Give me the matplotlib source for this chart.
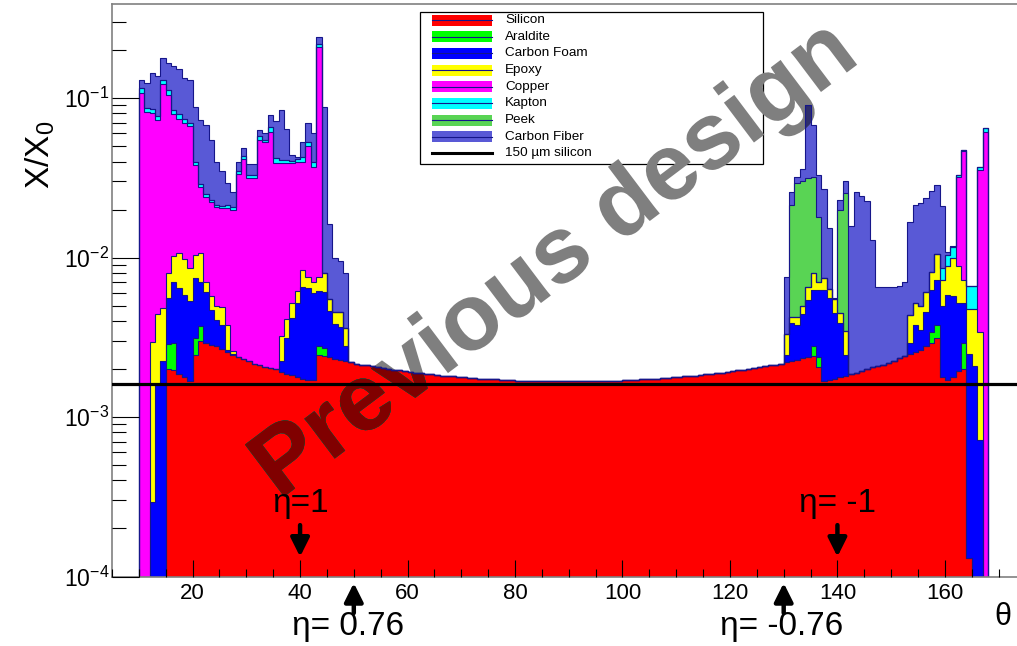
import numpy as np
import matplotlib
matplotlib.use("Agg")
import matplotlib.pyplot as plt
from matplotlib.patches import Rectangle
from matplotlib.lines import Line2D
from matplotlib.patheffects import AbstractPathEffect
from matplotlib.transforms import TransformedPath
from matplotlib.ticker import LogLocator, MultipleLocator, NullFormatter

plt.rcParams['font.family'] = ['Liberation Sans', 'DejaVu Sans']
plt.rcParams['mathtext.fontset'] = 'custom'
plt.rcParams['mathtext.rm'] = 'Liberation Sans'
plt.rcParams['mathtext.it'] = 'Liberation Sans:italic'
plt.rcParams['mathtext.default'] = 'regular'

# ---------------- data (1-degree theta bins, low edge = key) ----------------
first_bin = 10
n_bins = 158            # bins 10..167
# silicon level per bin (X/X0, in units of 1e-3)
silicon = [
    0, 0, 0, 0, 0,
    1.99, 1.98, 1.86, 1.79, 1.69,
    2.44, 3.01, 2.91, 2.84, 2.77, 2.68, 2.57, 2.45, 2.37, 2.30,
    2.23, 2.16, 2.13, 2.07, 2.03, 1.99, 1.92, 1.86, 1.83, 1.79,
    1.74, 1.71, 1.70, 2.44, 2.42, 2.37, 2.32, 2.28, 2.25, 2.20,
    2.16, 2.13, 2.11, 2.08, 2.05, 2.03, 2.00, 1.98, 1.96, 1.94,
    1.92, 1.90, 1.88, 1.87, 1.85, 1.84, 1.82, 1.81, 1.80, 1.78,
    1.77, 1.76, 1.75, 1.74, 1.73, 1.73, 1.72, 1.71, 1.70, 1.70,
    1.69, 1.69, 1.68, 1.68, 1.68, 1.68, 1.67, 1.67, 1.67, 1.67,
    1.67, 1.67, 1.67, 1.67, 1.68, 1.68, 1.68, 1.68, 1.69, 1.69,
    1.70, 1.70, 1.71, 1.72, 1.73, 1.73, 1.74, 1.75, 1.76, 1.77,
    1.78, 1.80, 1.81, 1.82, 1.84, 1.85, 1.87, 1.88, 1.90, 1.92,
    1.94, 1.96, 1.98, 2.00, 2.03, 2.05, 2.08, 2.11, 2.13, 2.16,
    2.20, 2.24, 2.28, 2.33, 2.39, 2.42, 2.05, 1.68, 1.70, 1.72,
    1.77, 1.80, 1.85, 1.89, 1.94, 1.99, 2.05, 2.09, 2.13, 2.17,
    2.24, 2.33, 2.40, 2.48, 2.57, 2.65, 2.78, 2.91, 3.12, 1.79,
    1.70, 1.79, 1.94, 2.00, 0.13, 0, 0, 0,
]
# stacked level (top of stack up to that material), units of 1e-3
top_araldite = {15: 2.88, 16: 2.91, 20: 3.12, 21: 3.74, 43: 2.80, 44: 2.71,
                135: 2.77, 136: 2.39, 157: 3.40, 158: 3.80, 163: 2.90}
top_carbon_foam = {12: 0.295, 13: 1.62, 14: 2.25, 15: 5.56, 16: 7.07, 17: 6.40, 18: 5.78,
                   19: 5.35, 20: 7.43, 21: 7.07, 22: 6.12, 23: 4.70, 24: 4.07, 25: 3.80,
                   26: 2.64, 27: 2.50, 36: 2.23, 37: 3.13, 38: 4.16, 39: 5.18, 40: 6.58,
                   41: 6.40, 42: 5.98, 43: 6.18, 44: 6.10, 45: 4.63, 46: 3.82, 47: 3.68,
                   48: 2.77, 130: 2.46, 131: 3.88, 132: 3.80, 133: 4.43, 134: 5.43,
                   135: 6.27, 136: 6.27, 137: 6.27, 138: 5.56, 139: 4.51, 140: 3.88,
                   141: 2.46, 153: 2.93, 154: 3.80, 155: 3.52, 156: 4.58, 157: 6.27,
                   158: 7.25, 159: 5.00, 160: 5.84, 161: 5.70, 162: 5.18, 163: 5.20,
                   164: 2.50, 165: 2.10, 166: 0.72}
top_epoxy = {12: 2.97, 13: 4.43, 14: 4.81, 15: 7.99, 16: 10.2, 17: 10.75, 18: 9.77,
             19: 8.58, 20: 10.4, 21: 10.6, 22: 7.07, 23: 5.73, 24: 4.97, 25: 4.89,
             26: 3.80, 27: 2.60, 36: 3.23, 37: 4.13, 38: 5.18, 39: 6.18, 40: 8.37,
             41: 7.60, 42: 7.00, 43: 7.60, 44: 8.05, 45: 5.48, 46: 4.58, 47: 4.58,
             48: 3.61, 130: 3.31, 131: 4.24, 132: 4.24, 133: 5.00, 134: 6.53, 135: 8.05,
             136: 7.00, 137: 7.43, 138: 6.33, 139: 5.48, 140: 4.47, 141: 3.44,
             153: 4.35, 154: 5.22, 155: 4.97, 156: 6.12, 157: 8.16, 158: 10.5,
             159: 7.25, 160: 8.90, 161: 9.90, 162: 8.90, 163: 7.25, 164: 4.78,
             165: 4.78, 166: 3.39}
top_copper = {10: 107, 11: 81.7, 12: 81.0, 13: 72.5, 14: 122.5, 15: 105, 16: 79.5,
              17: 73.5, 18: 70.0, 19: 66.4, 20: 38.2, 21: 27.7, 22: 24.0, 23: 22.3,
              24: 20.6, 25: 20.5, 26: 20.5, 27: 20.0, 28: 33.5, 29: 41.4, 30: 31.5,
              31: 31.5, 32: 54.7, 33: 53.0, 34: 61.5, 35: 39.4, 36: 39.0, 37: 39.0,
              38: 39.0, 39: 39.5, 40: 40.0, 41: 50.2, 42: 36.9, 43: 207.5,
              162: 31.8, 163: 46.3, 166: 35.3, 167: 61.4}
top_kapton = {10: 115, 11: 86.6, 12: 85.0, 13: 77.5, 14: 130, 15: 112, 16: 84.0,
              17: 79.0, 18: 73.5, 19: 69.7, 20: 40.0, 21: 28.7, 22: 25.0, 23: 23.0,
              24: 21.3, 25: 21.0, 26: 21.2, 27: 20.8, 28: 35.0, 29: 43.2, 30: 33.0,
              31: 33.0, 32: 58.0, 33: 54.5, 34: 65.4, 35: 42.0, 36: 41.0, 37: 41.0,
              38: 40.5, 39: 41.5, 40: 42.6, 41: 53.0, 42: 39.6, 43: 219.5,
              159: 8.58, 160: 10.4, 161: 11.6, 162: 32.9, 163: 47.0, 164: 6.60,
              165: 6.60, 166: 36.9, 167: 64.5}
top_peek = {131: 21.2, 132: 29.3, 133: 30.3, 134: 31.7, 135: 31.8, 136: 18.0,
            140: 19.9, 141: 25.4}
top_carbon_fiber = {10: 129, 11: 124, 12: 143.6, 13: 137, 14: 178, 15: 167, 16: 159,
                    17: 152, 18: 133, 19: 130, 20: 87.9, 21: 72.5, 22: 68.0, 23: 54.2,
                    24: 39.6, 25: 34.7, 26: 29.5, 27: 25.7, 28: 40.0, 29: 48.3,
                    30: 38.4, 31: 38.4, 32: 62.7, 33: 60.3, 34: 78.2, 35: 72.2,
                    36: 84.1, 37: 64.0, 38: 44.0, 39: 42.6, 40: 53.0, 41: 69.4,
                    42: 60.3, 43: 243, 44: 88.2, 45: 16.3, 46: 9.94, 47: 9.57, 48: 8.05,
                    130: 7.53, 131: 25.9, 132: 32.0, 133: 36.0, 134: 90.8, 135: 68.0,
                    136: 33.0, 137: 27.0, 138: 15.3, 139: 5.60, 140: 23.1, 141: 30.0,
                    142: 15.7, 143: 25.8, 144: 24.2, 145: 22.7, 146: 12.8, 147: 6.53,
                    148: 6.53, 149: 6.53, 150: 6.53, 151: 6.60, 152: 7.00, 153: 16.6,
                    154: 21.3, 155: 21.9, 156: 23.6, 157: 26.1, 158: 28.3, 159: 20.9,
                    160: 10.9, 161: 11.8}

materials = ['Silicon', 'Araldite', 'Carbon Foam', 'Epoxy', 'Copper', 'Kapton', 'Peek', 'Carbon Fiber']
upper_tops = [top_araldite, top_carbon_foam, top_epoxy, top_copper, top_kapton, top_peek, top_carbon_fiber]
fill_colors = ['#ff0000', '#00ff00', '#0000ff', '#ffff00', '#ff00ff', '#00ffff', '#59d454', '#5959d6']
reference_label = '150 \u00b5m silicon'
reference_value = 1.6e-3
eta_top = [(40, '\u03b7=1'), (140, '\u03b7= -1')]
eta_bottom = [(50, '\u03b7= 0.76'), (130, '\u03b7= -0.76')]

# ---------------- figure ----------------
W, H = 1017, 646
fig = plt.figure(figsize=(W / 100, H / 100), dpi=100)


def fx(px):
    return px / W


def fy(py):
    return 1 - py / H


ax = fig.add_axes([fx(112), fy(576.5), (1025.5 - 112) / W, (576.5 - 4.3) / H])
ax.set_yscale('log')
ax.set_xlim(5, 175)
ax.set_ylim(1e-4, 0.387)

edges = np.arange(first_bin, first_bin + n_bins + 1)
levels = []
lvl = np.array(silicon, dtype=float) * 1e-3
levels.append(lvl)
for d in upper_tops:
    lvl = lvl.copy()
    for t, v in d.items():
        lvl[t - first_bin] = max(v * 1e-3, lvl[t - first_bin])
    levels.append(lvl)

FLOOR = 1e-7
edge_col = '#16168a'
patches = []
for i in reversed(range(len(levels))):
    vals = np.where(levels[i] > 0, levels[i], FLOOR)
    p = ax.stairs(vals, edges, baseline=FLOOR, fill=True, facecolor=fill_colors[i],
                  edgecolor='none', zorder=1)
    patches.append((p, matplotlib.colors.to_rgb(fill_colors[i])))
for i in reversed(range(len(levels))):
    vals = np.where(levels[i] > 0, levels[i], FLOOR)
    ax.stairs(vals, edges, baseline=FLOOR, fill=False, color=edge_col, lw=0.8, zorder=2.2)

ax.axhline(reference_value, color='black', lw=2.3, zorder=2.6)

# axes styling (ROOT-like)
for s in ['left', 'bottom', 'top', 'right']:
    ax.spines[s].set_color('#808080')
    ax.spines[s].set_linewidth(1.2)
ax.set_axisbelow(False)
ax.xaxis.set_major_locator(MultipleLocator(20))
ax.xaxis.set_minor_locator(MultipleLocator(5))
ax.yaxis.set_major_locator(LogLocator(base=10, numticks=10))
ax.yaxis.set_minor_locator(LogLocator(base=10, subs=np.arange(2, 10), numticks=50))
ax.yaxis.set_minor_formatter(NullFormatter())
ax.tick_params(axis='x', which='major', direction='in', length=12, width=0.8, labelsize=16, pad=5)
ax.tick_params(axis='x', which='minor', direction='in', length=6, width=0.8)
ax.tick_params(axis='y', which='major', direction='in', length=19.5, width=0.8, labelsize=16.5, pad=2)
ax.tick_params(axis='y', which='minor', direction='in', length=9.9, width=0.8)
ax.tick_params(top=False, right=False)

# titles
fig.text(fx(40), fy(155), r'$\mathregular{X/X_0}$', rotation=90, fontsize=24, ha='center', va='center')
fig.text(fx(1003), fy(617), '\u03b8', fontsize=22, ha='center', va='center')

# legend (drawn under the watermark)
lx0, lx1, ly0, ly1 = 420, 763, 12, 164
ax.add_patch(Rectangle((fx(lx0), fy(ly1)), fx(lx1) - fx(lx0), fy(ly0) - fy(ly1),
                       transform=fig.transFigure, facecolor='white', edgecolor='black',
                       lw=0.9, clip_on=False, zorder=2.05))
row_y = [20, 36.7, 53.3, 70, 86.7, 103.3, 120, 136.7, 153.3]
for k, name in enumerate(materials):
    yc = row_y[k]
    ax.add_patch(Rectangle((fx(432), fy(yc + 5.5)), fx(492) - fx(432), 11 / H,
                           transform=fig.transFigure, facecolor=fill_colors[k],
                           edgecolor='none', clip_on=False, zorder=2.06))
    ax.add_line(Line2D([fx(432), fx(492)], [fy(yc), fy(yc)], transform=fig.transFigure,
                       color=edge_col, lw=0.8, clip_on=False, zorder=2.07))
    ax.text(fx(505), fy(yc), name, transform=fig.transFigure, fontsize=9.7,
            ha='left', va='center', clip_on=False, zorder=2.07)
yc = row_y[8]
ax.add_line(Line2D([fx(432), fx(492)], [fy(yc), fy(yc)], transform=fig.transFigure,
                   color='black', lw=2.2, clip_on=False, zorder=2.07))
ax.text(fx(505), fy(yc), reference_label, transform=fig.transFigure, fontsize=9.7,
        ha='left', va='center', clip_on=False, zorder=2.07)


# watermark with multiply-like tint over coloured areas
class MultiplyTint(AbstractPathEffect):
    def __init__(self, pairs, shade):
        super().__init__()
        self.pairs = pairs
        self.shade = shade

    def draw_path(self, renderer, gc, tpath, affine, rgbFace=None):
        renderer.draw_path(gc, tpath, affine, rgbFace)
        for patch, rgb in self.pairs:
            gc0 = renderer.new_gc()
            gc0.copy_properties(gc)
            gc0.set_clip_path(TransformedPath(patch.get_path(), patch.get_transform()))
            tint = tuple(c * self.shade for c in rgb)
            gc0.set_foreground(tint)
            renderer.draw_path(gc0, tpath, affine, tint)
            gc0.restore()


ax.text(fx(556), fy(261), 'Previous design', transform=fig.transFigure, fontsize=68,
        fontweight='bold', color='#7f7f7f', rotation=37, rotation_mode='anchor',
        ha='center', va='center', clip_on=False, zorder=2.1,
        path_effects=[MultiplyTint(patches, 0.5)])

# eta markers
arrow_kw = dict(arrowstyle='-|>,head_length=0.8,head_width=0.4', lw=3.2, color='black',
                shrinkA=0, shrinkB=0, mutation_scale=14)
for th, lab in eta_top:
    ax.annotate('', xy=(th, 1.33e-4), xytext=(th, 2.1e-4), arrowprops=arrow_kw, zorder=3)
    ax.text(th, 2.85e-4, lab, fontsize=24, ha='center', va='center', zorder=3)
for th, lab in eta_bottom:
    ax.annotate('', xy=(th, H - 583), xycoords=('data', 'figure pixels'),
                xytext=(th, H - 613), textcoords=('data', 'figure pixels'),
                arrowprops=arrow_kw, annotation_clip=False, zorder=3)
for (th, lab), cx in zip(eta_bottom, [348, 782]):
    fig.text(fx(cx), fy(626), lab, fontsize=24, ha='center', va='center')

fig.savefig('out.png', dpi=100)
